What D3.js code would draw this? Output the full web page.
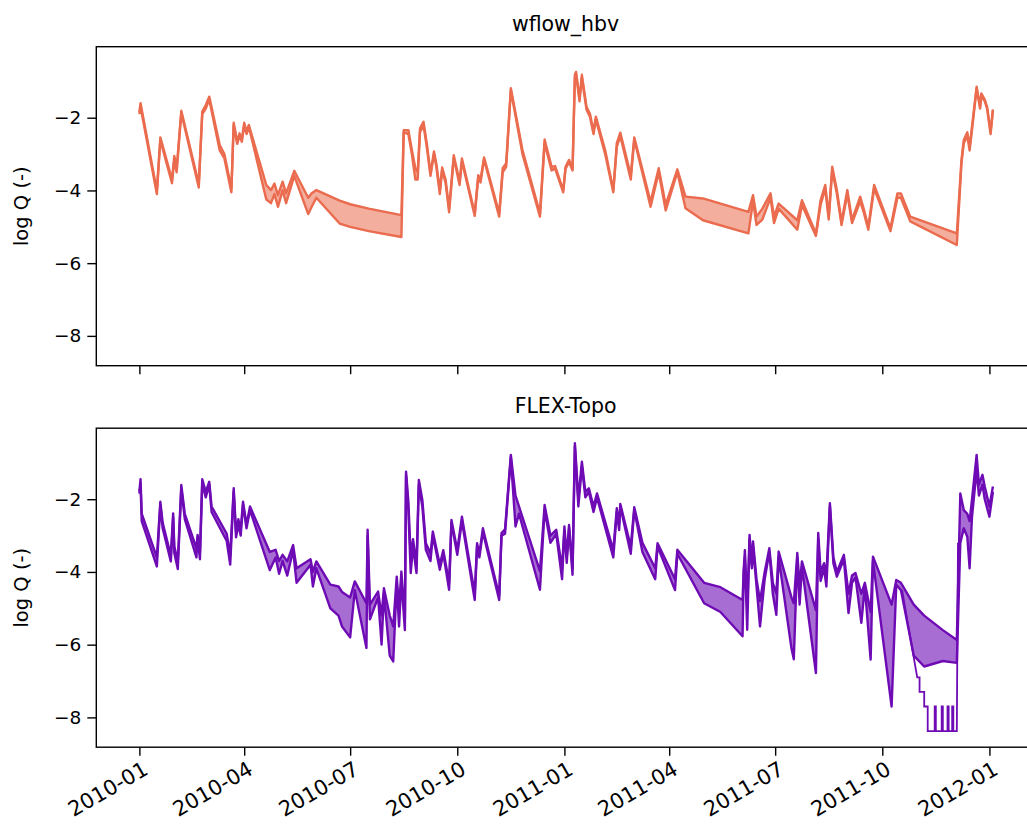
<!DOCTYPE html>
<html><head><meta charset="utf-8">
<script src="https://cdn.jsdelivr.net/npm/d3@7"></script>
<style>
body{margin:0;background:#fff;}
text{font-family:"DejaVu Sans",sans-serif;fill:#000;}
</style>
</head><body>
<svg id="chart" width="1027" height="827"></svg>
<script>
// ---------------- data ----------------
const startDate = "2010-01-01";
const panelTitles = ["wflow_hbv", "FLEX-Topo"];
const yLabel = "log Q (-)";
const yTicks = [-2, -4, -6, -8];
const yTickLabels = ["\u22122", "\u22124", "\u22126", "\u22128"];
const xTicks = ["2010-01-01","2010-04-01","2010-07-01","2010-10-01","2011-01-01","2011-04-01","2011-07-01","2011-10-01","2012-01-01"];
const xTickLabels = ["2010-01","2010-04","2010-07","2010-10","2011-01","2011-04","2011-07","2011-10","2012-01"];

// wflow_hbv ensemble: day offset from start, upper and lower member envelope
const topDays = [0,1,15,18,28,30,32,36,51,54,57,60,69,73,79,81,84,86,88,90,92,94,109,113,116,119,123,126,133,145,148,152,172,181,197,225,227,231,234,237,239,241,244,247,250,253,255,258,260,263,266,270,275,277,288,291,293,296,309,312,315,319,329,344,348,354,357,364,366,369,372,374,375,378,380,384,387,390,392,400,407,410,413,422,425,439,446,452,462,469,484,523,527,530,535,542,545,549,565,569,581,585,589,592,595,599,603,608,612,619,622,626,631,645,651,654,662,702,706,708,711,713,715,719,722,723,726,728,731,733];
const topHigh = [-1.85,-1.6,-4.0,-2.54,-3.7,-3.05,-3.4,-1.81,-3.82,-1.83,-1.65,-1.42,-2.75,-3.0,-3.95,-2.14,-2.66,-2.43,-2.6,-2.14,-2.38,-2.2,-3.85,-3.99,-3.81,-4.13,-3.76,-4.08,-3.46,-4.2,-4.08,-3.99,-4.28,-4.38,-4.5,-4.68,-2.34,-2.34,-2.89,-3.39,-3.5,-2.29,-2.11,-2.75,-3.53,-2.93,-3.26,-3.99,-3.37,-3.71,-4.49,-3.03,-3.76,-3.12,-4.63,-3.58,-3.7,-3.09,-4.63,-3.39,-3.25,-1.19,-2.89,-4.63,-2.6,-3.35,-3.33,-3.99,-3.35,-3.16,-3.39,-0.82,-0.74,-1.47,-0.82,-1.7,-1.9,-2.38,-1.97,-2.89,-3.99,-2.7,-2.41,-3.58,-2.54,-4.31,-3.39,-4.4,-3.42,-4.17,-4.22,-4.59,-4.13,-4.72,-4.5,-4.08,-4.72,-4.36,-4.82,-4.27,-5.18,-4.27,-3.85,-4.72,-3.35,-3.99,-4.86,-3.99,-4.82,-4.17,-4.5,-5.0,-3.85,-5.04,-4.08,-4.08,-4.72,-5.18,-3.16,-2.61,-2.4,-2.8,-2.25,-1.15,-1.7,-1.33,-1.5,-1.7,-2.38,-1.77];
const topLow = [-1.9,-1.7,-4.1,-2.62,-3.8,-3.15,-3.5,-1.87,-3.92,-1.9,-1.75,-1.5,-2.9,-3.12,-4.05,-2.2,-2.72,-2.5,-2.66,-2.2,-2.45,-2.25,-4.25,-4.35,-4.1,-4.45,-4.0,-4.35,-3.6,-4.65,-4.45,-4.2,-4.91,-5.0,-5.12,-5.28,-2.4,-2.45,-3.0,-3.7,-3.7,-2.4,-2.2,-2.85,-3.6,-3.0,-3.35,-4.1,-3.45,-3.8,-4.6,-3.1,-3.85,-3.2,-4.7,-3.65,-3.78,-3.15,-4.72,-3.5,-3.35,-1.25,-3.0,-4.72,-2.7,-3.45,-3.4,-4.05,-3.4,-3.22,-3.45,-0.9,-0.8,-1.55,-0.9,-1.78,-1.98,-2.45,-2.05,-3.0,-4.05,-2.8,-2.5,-3.7,-2.6,-4.45,-3.5,-4.55,-3.5,-4.49,-4.82,-5.18,-4.3,-4.95,-4.8,-4.2,-4.9,-4.5,-5.08,-4.4,-5.25,-4.4,-3.95,-4.8,-3.45,-4.1,-4.95,-4.1,-4.9,-4.3,-4.6,-5.08,-3.95,-5.12,-4.2,-4.2,-4.85,-5.5,-3.25,-2.7,-2.5,-2.9,-2.35,-1.2,-1.75,-1.4,-1.55,-1.75,-2.45,-1.8];

// FLEX-Topo ensemble
const botDays = [0,1,2,15,18,20,27,29,30,33,36,39,49,50,52,54,57,60,62,75,78,81,83,85,87,89,92,95,112,117,120,123,127,132,135,147,149,152,164,171,174,181,185,195,196,198,205,208,210,215,218,221,223,225,228,229,231,233,235,238,240,243,246,250,252,258,261,266,268,273,277,288,290,292,295,309,311,314,319,323,326,344,348,353,358,363,365,367,369,372,374,377,380,383,386,390,393,407,410,412,413,422,425,432,443,445,460,462,485,499,518,519,520,522,524,526,527,530,533,537,541,544,547,549,560,562,565,567,569,581,583,585,588,590,593,596,599,605,609,612,615,620,623,628,630,646,650,654,665,674,690,702,705,708,711,713,715,719,721,724,726,730,733];
const botHigh = [-1.79,-1.45,-2.4,-3.6,-2.07,-2.65,-3.55,-2.39,-3.3,-3.7,-1.61,-2.4,-3.35,-2.98,-3.45,-1.45,-1.8,-1.52,-2.2,-2.95,-3.55,-1.7,-2.9,-2.55,-2.85,-2.07,-2.7,-2.2,-3.45,-3.39,-3.7,-3.53,-3.71,-3.26,-3.9,-3.65,-4.0,-3.71,-4.35,-4.4,-4.55,-4.7,-4.26,-4.86,-2.84,-4.9,-4.54,-5.2,-4.45,-5.2,-5.5,-4.13,-5.0,-3.99,-5.3,-1.24,-2.07,-3.6,-3.1,-3.8,-1.47,-2.02,-3.2,-3.5,-2.89,-3.8,-3.4,-4.3,-2.57,-3.4,-2.48,-4.6,-3.21,-3.5,-2.8,-4.65,-2.93,-2.83,-0.78,-1.9,-2.2,-3.98,-2.16,-3.0,-2.84,-3.9,-2.75,-3.6,-2.71,-3.9,-0.46,-2.0,-0.97,-1.8,-1.7,-2.2,-1.84,-3.4,-2.25,-2.7,-2.13,-3.3,-2.22,-3.2,-3.9,-3.21,-4.2,-3.39,-4.3,-4.42,-4.77,-3.94,-3.4,-5.0,-2.98,-3.8,-3.16,-4.2,-4.8,-4.0,-3.35,-4.3,-4.6,-3.44,-4.7,-4.86,-3.48,-4.4,-3.71,-5.05,-2.93,-4.0,-3.76,-4.1,-2.11,-3.6,-4.0,-3.53,-4.6,-4.1,-4.03,-4.6,-4.3,-5.1,-3.58,-4.9,-4.22,-4.3,-4.9,-5.2,-5.6,-5.87,-1.84,-2.3,-2.4,-2.6,-2.02,-0.78,-1.6,-1.33,-1.65,-2.2,-1.65];
const botLow = [-1.85,-1.6,-2.6,-3.85,-2.15,-2.8,-3.71,-2.5,-3.48,-3.92,-1.7,-2.55,-3.6,-3.05,-3.65,-1.55,-1.95,-1.6,-2.35,-3.15,-3.8,-1.8,-3.05,-2.7,-3.0,-2.15,-2.8,-2.3,-3.95,-3.6,-4.05,-3.7,-4.1,-3.4,-4.3,-3.8,-4.4,-3.9,-5.0,-5.2,-5.5,-5.8,-4.5,-6.09,-3.0,-5.3,-4.7,-6.0,-4.6,-6.3,-6.46,-4.3,-5.5,-4.2,-5.6,-1.35,-2.3,-4.03,-3.3,-4.03,-1.6,-2.2,-3.39,-3.7,-3.0,-3.94,-3.5,-4.49,-2.65,-3.53,-2.6,-4.77,-3.3,-3.6,-2.9,-4.77,-3.0,-2.95,-0.85,-2.75,-2.4,-4.49,-2.3,-3.2,-2.95,-4.2,-2.85,-3.75,-2.8,-4.08,-0.55,-2.2,-1.1,-1.95,-1.8,-2.35,-1.95,-3.6,-2.35,-2.85,-2.2,-3.5,-2.3,-3.45,-4.2,-3.3,-4.5,-3.5,-4.86,-5.1,-5.77,-4.0,-3.6,-5.59,-3.1,-3.9,-3.3,-4.4,-5.5,-4.2,-3.45,-4.6,-5.18,-3.6,-6.1,-6.4,-3.6,-4.9,-3.85,-6.78,-3.1,-4.25,-3.9,-4.4,-2.2,-3.76,-4.13,-3.65,-5.13,-4.3,-4.15,-5.4,-4.4,-6.41,-3.7,-7.7,-4.35,-4.5,-6.3,-6.6,-6.45,-6.5,-3.2,-2.8,-3.03,-3.9,-2.5,-1.2,-1.9,-1.6,-2.0,-2.48,-1.8];

// FLEX-Topo driest members at end of 2011 (stepped floor)
const botStepDays = [655,662,668,670,670,674,674,677,677,683,683,684,684,689,689,690,690,694,694,695,695,698,698,699,699,702,703];
const botStepVals = [-4.5,-5.8,-6.9,-6.9,-7.3,-7.3,-7.7,-7.7,-8.38,-8.38,-7.7,-7.7,-8.38,-8.38,-7.7,-7.7,-8.38,-8.38,-7.7,-7.7,-8.38,-8.38,-7.7,-7.7,-8.38,-8.38,-3.2];

const colors = ["#ea6b4e", "#6e0bb5"];
const fillOpacity = [0.55, 0.6];

// ---------------- layout ----------------
const svg = d3.select("#chart");
const t0 = d3.timeParse("%Y-%m-%d")(startDate);
const toDate = d => d3.timeDay.offset(t0, d);
const allDays = topDays.concat(botDays);
const dMin = d3.min(allDays), dMax = d3.max(allDays);
const pad = (dMax - dMin) * 0.05;
const left = 96.3, pxPerDay = 1.164;
const x = d3.scaleTime()
  .domain([toDate(dMin - pad), toDate(dMax + pad)])
  .range([left, left + (dMax - dMin + 2 * pad) * pxPerDay]);
const axW = x.range()[1] - left;
const panels = [
  {top: 46.7, h: 319, days: topDays, hi: topHigh, lo: topLow},
  {top: 428.2, h: 319, days: botDays, hi: botHigh, lo: botLow}
];
const yDomain = [-8.82, -0.047];
const parseTick = d3.timeParse("%Y-%m-%d");

panels.forEach((p, i) => {
  const y = d3.scaleLinear().domain(yDomain).range([p.top + p.h, p.top]);
  const g = svg.append("g");
  const clipId = "clip" + i;
  svg.append("clipPath").attr("id", clipId).append("rect")
    .attr("x", left).attr("y", p.top).attr("width", axW).attr("height", p.h);
  const pts = p.days.map((d, k) => ({d: toDate(d), hi: p.hi[k], lo: p.lo[k]}));
  const plot = g.append("g").attr("clip-path", `url(#${clipId})`);
  plot.append("path").datum(pts)
    .attr("d", d3.area().x(d => x(d.d)).y0(d => y(d.lo)).y1(d => y(d.hi)))
    .attr("fill", colors[i]).attr("fill-opacity", fillOpacity[i]);
  ["hi", "lo"].forEach(key => {
    plot.append("path").datum(pts)
      .attr("d", d3.line().x(d => x(d.d)).y(d => y(d[key])))
      .attr("fill", "none").attr("stroke", colors[i]).attr("stroke-width", 2.4)
      .attr("stroke-linejoin", "round");
  });
  if (i === 1) {
    const sp = botStepDays.map((d, k) => ({d: toDate(d), v: botStepVals[k]}));
    plot.append("path").datum(sp)
      .attr("d", d3.line().x(d => x(d.d)).y(d => y(d.v)))
      .attr("fill", "none").attr("stroke", colors[i]).attr("stroke-width", 1.8);
  }

  // frame
  g.append("rect").attr("x", left).attr("y", p.top).attr("width", axW).attr("height", p.h)
    .attr("fill", "none").attr("stroke", "#000").attr("stroke-width", 1.4);

  // y axis
  const ya = g.append("g").attr("transform", `translate(${left},0)`)
    .call(d3.axisLeft(y).tickValues(yTicks).tickSize(9).tickPadding(6)
      .tickFormat((d, k) => yTickLabels[k]));
  ya.select(".domain").remove();
  ya.selectAll(".tick line").attr("stroke", "#000").attr("stroke-width", 1.4);
  ya.selectAll(".tick text").attr("font-size", 18.5).attr("font-family", "DejaVu Sans").attr("fill", "#000");

  // x axis
  const xa = g.append("g").attr("transform", `translate(0,${p.top + p.h})`)
    .call(d3.axisBottom(x).tickValues(xTicks.map(parseTick)).tickSize(8.5)
      .tickFormat((d, k) => i === 1 ? xTickLabels[k] : ""));
  xa.select(".domain").remove();
  xa.selectAll(".tick line").attr("stroke", "#000").attr("stroke-width", 1.4);
  if (i === 1) {
    xa.selectAll(".tick text")
      .attr("font-size", 21).attr("font-family", "DejaVu Sans").attr("fill", "#000")
      .attr("text-anchor", "end").attr("dy", null).attr("y", null)
      .attr("dominant-baseline", "hanging")
      .attr("transform", "translate(2,13) rotate(-30)");
  } else {
    xa.selectAll(".tick text").remove();
  }

  // title
  svg.append("text").attr("x", left + axW / 2).attr("y", p.top - 15.5)
    .attr("text-anchor", "middle").attr("font-size", 20.5).text(panelTitles[i]);
  // y label
  svg.append("text").attr("transform", `translate(28,${p.top + p.h / 2}) rotate(-90)`)
    .attr("text-anchor", "middle").attr("font-size", 19.5).text(yLabel);
});
</script>
</body></html>
